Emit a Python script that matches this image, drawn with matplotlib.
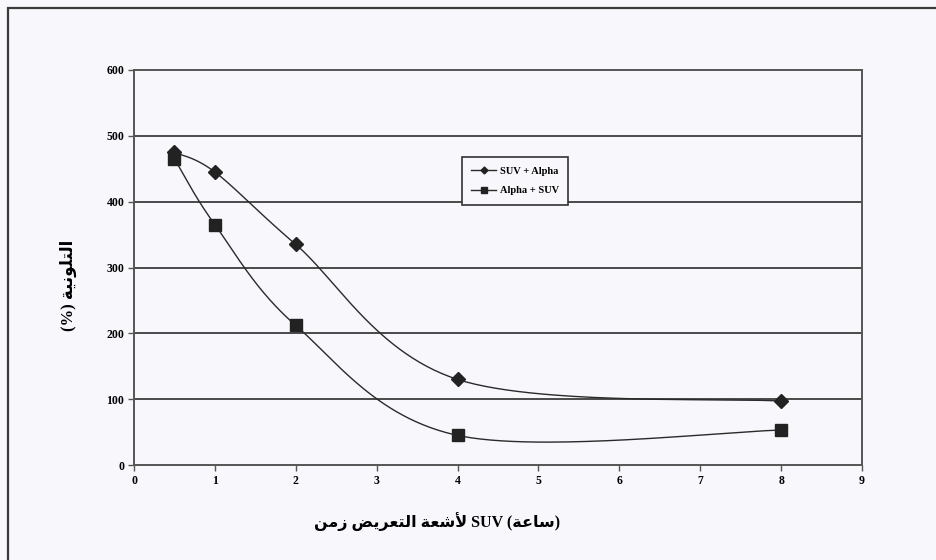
import numpy as np
import matplotlib
matplotlib.use("Agg")
import matplotlib.pyplot as plt
from matplotlib.patches import Rectangle
from matplotlib.lines import Line2D

# ---- data -------------------------------------------------------------
hours = [0.5, 1, 2, 4, 8]
suv_alpha = [475, 445, 335, 130, 97]
alpha_suv = [465, 365, 212, 45, 53]
series_names = ["SUV + Alpha", "Alpha + SUV"]
x_ticks = [0, 1, 2, 3, 4, 5, 6, 7, 8, 9]
y_ticks = [0, 100, 200, 300, 400, 500, 600]
x_title = "زمن التعريض لأشعة SUV (ساعة)"
y_title = "(%) التلونية"

# ---- simple Arabic shaping (presentation forms) -----------------------
FORMS = {
    'ا': (0xFE8D, 0xFE8E, None, None), 'أ': (0xFE83, 0xFE84, None, None),
    'ب': (0xFE8F, 0xFE90, 0xFE91, 0xFE92), 'ت': (0xFE95, 0xFE96, 0xFE97, 0xFE98),
    'ة': (0xFE93, 0xFE94, None, None), 'ث': (0xFE99, 0xFE9A, 0xFE9B, 0xFE9C),
    'ج': (0xFE9D, 0xFE9E, 0xFE9F, 0xFEA0), 'ح': (0xFEA1, 0xFEA2, 0xFEA3, 0xFEA4),
    'خ': (0xFEA5, 0xFEA6, 0xFEA7, 0xFEA8), 'د': (0xFEA9, 0xFEAA, None, None),
    'ذ': (0xFEAB, 0xFEAC, None, None), 'ر': (0xFEAD, 0xFEAE, None, None),
    'ز': (0xFEAF, 0xFEB0, None, None), 'س': (0xFEB1, 0xFEB2, 0xFEB3, 0xFEB4),
    'ش': (0xFEB5, 0xFEB6, 0xFEB7, 0xFEB8), 'ص': (0xFEB9, 0xFEBA, 0xFEBB, 0xFEBC),
    'ض': (0xFEBD, 0xFEBE, 0xFEBF, 0xFEC0), 'ط': (0xFEC1, 0xFEC2, 0xFEC3, 0xFEC4),
    'ظ': (0xFEC5, 0xFEC6, 0xFEC7, 0xFEC8), 'ع': (0xFEC9, 0xFECA, 0xFECB, 0xFECC),
    'غ': (0xFECD, 0xFECE, 0xFECF, 0xFED0), 'ف': (0xFED1, 0xFED2, 0xFED3, 0xFED4),
    'ق': (0xFED5, 0xFED6, 0xFED7, 0xFED8), 'ك': (0xFED9, 0xFEDA, 0xFEDB, 0xFEDC),
    'ل': (0xFEDD, 0xFEDE, 0xFEDF, 0xFEE0), 'م': (0xFEE1, 0xFEE2, 0xFEE3, 0xFEE4),
    'ن': (0xFEE5, 0xFEE6, 0xFEE7, 0xFEE8), 'ه': (0xFEE9, 0xFEEA, 0xFEEB, 0xFEEC),
    'و': (0xFEED, 0xFEEE, None, None), 'ي': (0xFEF1, 0xFEF2, 0xFEF3, 0xFEF4),
}
LAM_ALEF = {'ا': (0xFEFB, 0xFEFC), 'أ': (0xFEF7, 0xFEF8)}
MIRROR = {'(': ')', ')': '('}


def shape_word(word):
    chars = list(word)
    # lam-alef ligatures
    units = []
    i = 0
    while i < len(chars):
        if chars[i] == 'ل' and i + 1 < len(chars) and chars[i + 1] in LAM_ALEF:
            units.append(('LA', chars[i + 1]))
            i += 2
        else:
            units.append(('C', chars[i]))
            i += 1

    def joins_left(u):  # can connect to following letter
        if u[0] == 'LA':
            return False
        f = FORMS.get(u[1])
        return f is not None and f[2] is not None

    def arabic(u):
        return u[0] == 'LA' or u[1] in FORMS

    out = []
    for k, u in enumerate(units):
        prev_join = k > 0 and arabic(units[k - 1]) and joins_left(units[k - 1])
        nxt = units[k + 1] if k + 1 < len(units) else None
        if u[0] == 'LA':
            iso, fin = LAM_ALEF[u[1]]
            out.append(chr(fin if prev_join else iso))
            continue
        c = u[1]
        if c not in FORMS:
            out.append(MIRROR.get(c, c))
            continue
        iso, fin, ini, med = FORMS[c]
        next_join = nxt is not None and arabic(nxt) and ini is not None
        if prev_join and next_join:
            out.append(chr(med))
        elif prev_join:
            out.append(chr(fin))
        elif next_join:
            out.append(chr(ini))
        else:
            out.append(chr(iso))
    return ''.join(reversed(out))


def visual(text):
    words = text.split(' ')
    res = []
    for w in words:
        if any(ch in FORMS for ch in w):
            res.append(shape_word(w))
        else:
            res.append(w)
    return ' '.join(res)


# ---- smoothing (Catmull-Rom style Bezier, computed in screen space) ---
def smooth(ax, xs, ys, n=60):
    pts = ax.transData.transform(np.column_stack([xs, ys]))
    m = len(pts)
    curve = []
    for i in range(m - 1):
        p0 = pts[i - 1] if i > 0 else pts[i]
        p1 = pts[i]
        p2 = pts[i + 1]
        p3 = pts[i + 2] if i + 2 < m else pts[i + 1]
        c1 = p1 + (p2 - p0) / 6.0
        c2 = p2 - (p3 - p1) / 6.0
        t = np.linspace(0, 1, n)[:, None]
        seg = ((1 - t) ** 3) * p1 + 3 * ((1 - t) ** 2) * t * c1 + \
            3 * (1 - t) * t ** 2 * c2 + t ** 3 * p2
        curve.append(seg if i == 0 else seg[1:])
    curve = np.vstack(curve)
    d = ax.transData.inverted().transform(curve)
    return d[:, 0], d[:, 1]


# ---- figure -----------------------------------------------------------
bg = '#f8f8fc'
W, H = 936, 560
fig = plt.figure(figsize=(W / 100, H / 100), dpi=100, facecolor=bg)

# outer chart frame
fig.patches.append(Rectangle((8 / W, -0.05), 1.1, (552 / H) + 0.05,
                             transform=fig.transFigure, fill=False,
                             edgecolor='#3a3a3a', linewidth=1.6))

left, right, top, bottom = 134, 862, 70, 465
ax = fig.add_axes([left / W, 1 - bottom / H, (right - left) / W, (bottom - top) / H])
ax.set_facecolor(bg)
ax.set_xlim(0, 9)
ax.set_ylim(0, 600)

for s in ax.spines.values():
    s.set_color('#555555')
    s.set_linewidth(1.4)

ax.set_xticks(x_ticks)
ax.set_yticks(y_ticks)
ax.set_xticklabels([str(v) for v in x_ticks], fontfamily='Liberation Serif',
                   fontweight='bold', fontsize=8.5)
ax.set_yticklabels([str(v) for v in y_ticks], fontfamily='Liberation Serif',
                   fontweight='bold', fontsize=8.5)
ax.tick_params(axis='both', direction='out', length=4, width=1,
               color='#555555', pad=3)

for v in y_ticks[1:-1]:
    ax.axhline(v, color='#4a4a4a', linewidth=1.4, zorder=1)

line_c = '#2a2a2a'
mk_c = '#222222'
sx, sy = smooth(ax, hours, suv_alpha)
ax.plot(sx, sy, color=line_c, linewidth=1.0, zorder=3)
ax.plot(hours, suv_alpha, linestyle='none', marker='D', markersize=7.5,
        color=mk_c, zorder=4)
ax2x, ax2y = smooth(ax, hours, alpha_suv)
ax.plot(ax2x, ax2y, color=line_c, linewidth=1.0, zorder=3)
ax.plot(hours, alpha_suv, linestyle='none', marker='s', markersize=9,
        color=mk_c, zorder=4)

handles = [
    Line2D([], [], color=line_c, linewidth=1.0, marker='D', markersize=3.5,
           markerfacecolor=mk_c, markeredgecolor=mk_c),
    Line2D([], [], color=line_c, linewidth=1.0, marker='s', markersize=4,
           markerfacecolor=mk_c, markeredgecolor=mk_c),
]
leg = ax.legend(handles, series_names, loc='upper left',
                bbox_to_anchor=((462 - left) / (right - left), (bottom - 157) / (bottom - top)),
                frameon=True, fancybox=False, handlelength=2.4, handletextpad=0.3,
                labelspacing=1.0, borderpad=0.9, borderaxespad=0,
                prop={'family': 'Liberation Serif', 'weight': 'bold', 'size': 7.5})
leg.get_frame().set_edgecolor('#333333')
leg.get_frame().set_linewidth(1.2)
leg.get_frame().set_facecolor(bg)
leg.get_frame().set_alpha(1)

fam = ['Liberation Serif', 'DejaVu Sans']
fig.text(437 / W, 1 - 522 / H, visual(x_title), ha='center', va='center',
         fontsize=11.5, fontweight='bold', family=fam)
fig.text(68 / W, 1 - 285 / H, visual(y_title), ha='center', va='center',
         rotation=90, fontsize=12, fontweight='bold', family=fam)

fig.savefig('out.png', dpi=100, facecolor=bg)
